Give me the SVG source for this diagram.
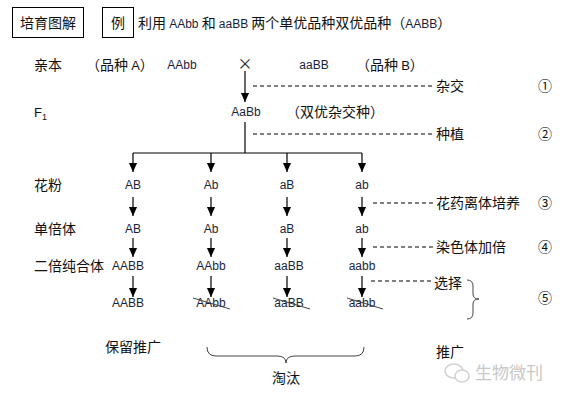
<svg xmlns="http://www.w3.org/2000/svg" width="562" height="403" viewBox="0 0 562 403">
<style>
.cn{font-family:"Noto Sans CJK SC","Noto Sans",sans-serif;font-size:14px;fill:#111}
.gt{font-family:"Liberation Sans","Noto Sans",sans-serif;font-size:12px;fill:#1a1f3a}
.ln{stroke:#000;stroke-width:1.2;fill:none}
.ds{stroke:#000;stroke-width:1;stroke-dasharray:4,3;fill:none}
.st{stroke:#444;stroke-width:1;fill:none}
.bx{stroke:#000;stroke-width:1;fill:#fff}
.wm{font-family:"Noto Sans CJK SC",sans-serif;font-size:17px;fill:#c8c8c8}
</style>
<defs>
<marker id="ah" markerUnits="userSpaceOnUse" markerWidth="9" markerHeight="10" refX="10" refY="4.5" orient="auto" viewBox="0 0 10 9">
<path d="M0,0 L10,4.5 L0,9 z" fill="#000"/>
</marker>
</defs>
<rect width="562" height="403" fill="#fff"/>

<g id="title">
<rect class="bx" x="12.5" y="7.5" width="71" height="30"/>
<text class="cn" x="48" y="28" text-anchor="middle">培育图解</text>
<rect class="bx" x="102.5" y="7.5" width="31" height="30"/>
<text class="cn" x="118" y="28" text-anchor="middle">例</text>
<text class="cn" x="138" y="28">利用 <tspan class="gt" style="font-size:12px">AAbb</tspan> 和 <tspan class="gt" style="font-size:12px">aaBB</tspan> 两个单优品种双优品种（<tspan class="gt" style="font-size:12px">AABB</tspan>）</text>
</g>

<g id="row-labels">
<text class="cn" x="34" y="70">亲本</text>
<text class="cn" x="34" y="117" style="font-family:'Liberation Sans',sans-serif;font-size:13px">F<tspan style="font-size:9px" dy="3">1</tspan></text>
<text class="cn" x="34" y="190">花粉</text>
<text class="cn" x="34" y="234">单倍体</text>
<text class="cn" x="34" y="271">二倍纯合体</text>
</g>

<g id="parents">
<text class="cn" x="86" y="70">（品种 <tspan style="font-family:'Liberation Sans',sans-serif;font-size:13px">A</tspan>）</text>
<text class="gt" x="182" y="69" text-anchor="middle">AAbb</text>
<text class="cn" x="245" y="69" text-anchor="middle" style="font-size:15px">×</text>
<text class="gt" x="314" y="69" text-anchor="middle">aaBB</text>
<text class="cn" x="356" y="70">（品种 <tspan style="font-family:'Liberation Sans',sans-serif;font-size:13px">B</tspan>）</text>
</g>

<g id="f1">
<text class="gt" x="246" y="116" text-anchor="middle">AaBb</text>
<text class="cn" x="286" y="117">（双优杂交种）</text>
</g>

<g id="gametes">
<text class="gt" x="133" y="189" text-anchor="middle">AB</text>
<text class="gt" x="211" y="189" text-anchor="middle">Ab</text>
<text class="gt" x="287" y="189" text-anchor="middle">aB</text>
<text class="gt" x="362" y="189" text-anchor="middle">ab</text>
</g>
<g id="haploid">
<text class="gt" x="133" y="233" text-anchor="middle">AB</text>
<text class="gt" x="211" y="233" text-anchor="middle">Ab</text>
<text class="gt" x="287" y="233" text-anchor="middle">aB</text>
<text class="gt" x="362" y="233" text-anchor="middle">ab</text>
</g>
<g id="diploid">
<text class="gt" x="128" y="270" text-anchor="middle">AABB</text>
<text class="gt" x="211" y="270" text-anchor="middle">AAbb</text>
<text class="gt" x="289" y="270" text-anchor="middle">aaBB</text>
<text class="gt" x="362" y="270" text-anchor="middle">aabb</text>
</g>
<g id="selected">
<text class="gt" x="128" y="307" text-anchor="middle">AABB</text>
<text class="gt" x="211" y="307" text-anchor="middle">AAbb</text>
<text class="gt" x="289" y="307" text-anchor="middle">aaBB</text>
<text class="gt" x="362" y="307" text-anchor="middle">aabb</text>
<line class="st" x1="193" y1="298" x2="230" y2="309"/>
<line class="st" x1="273" y1="298" x2="310" y2="309"/>
<line class="st" x1="347" y1="298" x2="383" y2="309"/>
</g>

<g id="steps">
<text class="cn" x="436" y="91">杂交</text>
<text class="cn" x="545" y="91" text-anchor="middle">①</text>
<text class="cn" x="436" y="139">种植</text>
<text class="cn" x="545" y="139" text-anchor="middle">②</text>
<text class="cn" x="436" y="208">花药离体培养</text>
<text class="cn" x="545" y="208" text-anchor="middle">③</text>
<text class="cn" x="436" y="252">染色体加倍</text>
<text class="cn" x="545" y="252" text-anchor="middle">④</text>
<text class="cn" x="434" y="288">选择</text>
<text class="cn" x="545" y="303" text-anchor="middle">⑤</text>
</g>

<g id="outcomes">
<text class="cn" x="105" y="352">保留推广</text>
<text class="cn" x="436" y="357">推广</text>
<text class="cn" x="272" y="383">淘汰</text>
</g>

<g id="connectors">
<line class="ln" x1="245" y1="71" x2="245" y2="102" marker-end="url(#ah)"/>
<line class="ln" x1="245" y1="122" x2="245" y2="153"/>
<line class="ln" x1="133" y1="153" x2="362" y2="153"/>
<line class="ln" x1="133" y1="153" x2="133" y2="172" marker-end="url(#ah)"/>
<line class="ln" x1="211" y1="153" x2="211" y2="172" marker-end="url(#ah)"/>
<line class="ln" x1="287" y1="153" x2="287" y2="172" marker-end="url(#ah)"/>
<line class="ln" x1="362" y1="153" x2="362" y2="172" marker-end="url(#ah)"/>
<line class="ln" x1="133" y1="197" x2="133" y2="216" marker-end="url(#ah)"/>
<line class="ln" x1="211" y1="197" x2="211" y2="216" marker-end="url(#ah)"/>
<line class="ln" x1="287" y1="197" x2="287" y2="216" marker-end="url(#ah)"/>
<line class="ln" x1="362" y1="197" x2="362" y2="216" marker-end="url(#ah)"/>
<line class="ln" x1="133" y1="238" x2="133" y2="257" marker-end="url(#ah)"/>
<line class="ln" x1="211" y1="238" x2="211" y2="257" marker-end="url(#ah)"/>
<line class="ln" x1="287" y1="238" x2="287" y2="257" marker-end="url(#ah)"/>
<line class="ln" x1="362" y1="238" x2="362" y2="257" marker-end="url(#ah)"/>
<line class="ln" x1="133" y1="276" x2="133" y2="297" marker-end="url(#ah)"/>
<line class="ln" x1="211" y1="276" x2="211" y2="297" marker-end="url(#ah)"/>
<line class="ln" x1="287" y1="276" x2="287" y2="297" marker-end="url(#ah)"/>
<line class="ln" x1="362" y1="276" x2="362" y2="297" marker-end="url(#ah)"/>
<line class="ds" x1="253" y1="86" x2="433" y2="86"/>
<line class="ds" x1="253" y1="134" x2="433" y2="134"/>
<line class="ds" x1="373" y1="203" x2="433" y2="203"/>
<line class="ds" x1="373" y1="247" x2="433" y2="247"/>
<line class="ds" x1="371" y1="281" x2="433" y2="281"/>
<path class="st" d="M467,280 Q473,280 473,286 L473,294 Q473,299 479,299 Q473,299 473,304 L473,313 Q473,319 467,319"/>
<path class="st" d="M207,347 Q207,356 216,356 L277,356 Q286,356 286,363 Q286,356 295,356 L355,356 Q364,356 364,347"/>
</g>

<g id="watermark">
<ellipse cx="454" cy="371" rx="9" ry="7" fill="none" stroke="#d0d0d0" stroke-width="1.5"/>
<ellipse cx="462" cy="376" rx="7" ry="6" fill="#fff" stroke="#d0d0d0" stroke-width="1.5"/>
<text class="wm" x="475" y="379">生物微刊</text>
</g>
</svg>
